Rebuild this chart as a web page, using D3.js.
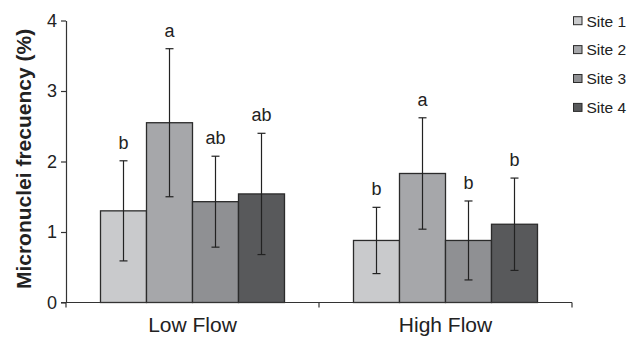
<!DOCTYPE html>
<html><head><meta charset="utf-8">
<script src="https://cdn.jsdelivr.net/npm/d3@7"></script>
<style>body{margin:0;background:#fff}svg{display:block}text{font-family:"Liberation Sans",Arial,sans-serif;fill:#222}</style>
</head><body>
<svg id="c" width="628" height="338"></svg>
<script>
const categories = ["Low Flow", "High Flow"];
const sites = ["Site 1", "Site 2", "Site 3", "Site 4"];
const lowFlowMeans = [1.30, 2.55, 1.43, 1.54];
const lowFlowErr = [0.71, 1.05, 0.645, 0.86];
const lowFlowLetters = ["b", "a", "ab", "ab"];
const highFlowMeans = [0.88, 1.83, 0.88, 1.11];
const highFlowErr = [0.47, 0.79, 0.56, 0.655];
const highFlowLetters = ["b", "a", "b", "b"];
const yTicks = [0, 1, 2, 3, 4];
const colors = ["#c9cacc", "#a6a7aa", "#8f9093", "#58595b"];

const groups = [
  {cat: categories[0], means: lowFlowMeans, err: lowFlowErr, letters: lowFlowLetters},
  {cat: categories[1], means: highFlowMeans, err: highFlowErr, letters: highFlowLetters}
];

const svg = d3.select("#c");
const mLeft = 66, mRight = 572, mTop = 20.5, mBottom = 302.5;
const x0 = d3.scaleBand().domain(categories).range([mLeft, mRight]).padding(0);
const x1 = d3.scaleBand().domain(sites).range([0, x0.bandwidth()]).paddingInner(0).paddingOuter(0.75);
const y = d3.scaleLinear().domain([0, 4]).range([mBottom, mTop]);
const color = d3.scaleOrdinal().domain(sites).range(colors);

// bars
const g = svg.selectAll("g.grp").data(groups).enter().append("g")
  .attr("transform", d => `translate(${x0(d.cat)},0)`);
const items = g.selectAll("g.it").data(d => sites.map((s, i) => ({s, m: d.means[i], e: d.err[i], l: d.letters[i]})))
  .enter().append("g");
items.append("rect")
  .attr("x", d => x1(d.s)).attr("width", x1.bandwidth())
  .attr("y", d => y(d.m)).attr("height", d => y(0) - y(d.m))
  .attr("fill", d => color(d.s)).attr("stroke", "#2b2b2b").attr("stroke-width", 1.3);
const cx = d => x1(d.s) + x1.bandwidth() / 2;
items.append("line").attr("x1", cx).attr("x2", cx)
  .attr("y1", d => y(d.m + d.e)).attr("y2", d => y(d.m - d.e))
  .attr("stroke", "#222").attr("stroke-width", 1.2);
[1, -1].forEach(sg => {
  items.append("line").attr("x1", d => cx(d) - 4).attr("x2", d => cx(d) + 4)
    .attr("y1", d => y(d.m + sg * d.e)).attr("y2", d => y(d.m + sg * d.e))
    .attr("stroke", "#222").attr("stroke-width", 1.2);
});
items.append("text").attr("x", cx).attr("y", d => y(d.m + d.e) - 12)
  .attr("text-anchor", "middle").attr("font-size", 18).text(d => d.l);

// y axis
const ya = svg.append("g").attr("transform", `translate(${mLeft},0)`)
  .call(d3.axisLeft(y).tickValues(yTicks).tickFormat(d3.format("d")).tickSize(5).tickSizeOuter(0).tickPadding(4));
ya.select(".domain").attr("stroke", "#333").attr("stroke-width", 1.2);
ya.selectAll(".tick line").attr("stroke", "#333").attr("stroke-width", 1.2);
ya.selectAll(".tick text").attr("font-size", 18).attr("fill", "#222")
  .attr("font-family", '"Liberation Sans",Arial,sans-serif');

// x axis
const xa = svg.append("g");
xa.append("line").attr("x1", mLeft - 5).attr("x2", mRight).attr("y1", mBottom).attr("y2", mBottom)
  .attr("stroke", "#333").attr("stroke-width", 1.2);
const bounds = categories.map(c => x0(c)).concat([x0(categories[categories.length - 1]) + x0.bandwidth()]);
xa.selectAll("line.t").data(bounds).enter().append("line")
  .attr("x1", d => d).attr("x2", d => d).attr("y1", mBottom).attr("y2", mBottom + 5)
  .attr("stroke", "#333").attr("stroke-width", 1.2);
xa.selectAll("text").data(categories).enter().append("text")
  .attr("x", d => x0(d) + x0.bandwidth() / 2).attr("y", 332)
  .attr("text-anchor", "middle").attr("font-size", 21).text(d => d);

// y title
svg.append("text").attr("transform", "translate(31,159) rotate(-90)")
  .attr("text-anchor", "middle").attr("font-size", 21).attr("font-weight", "bold")
  .text("Micronuclei frecuency (%)");

// legend
const lg = svg.selectAll("g.lg").data(sites).enter().append("g")
  .attr("transform", (d, i) => `translate(573.5,${20.7 + i * 28.9})`);
lg.append("rect").attr("x", 0).attr("y", -4).attr("width", 8.5).attr("height", 8)
  .attr("fill", d => color(d)).attr("stroke", "#2b2b2b").attr("stroke-width", 1);
lg.append("text").attr("x", 13).attr("y", 5.8).attr("font-size", 15.5).text(d => d);
</script>
</body></html>
